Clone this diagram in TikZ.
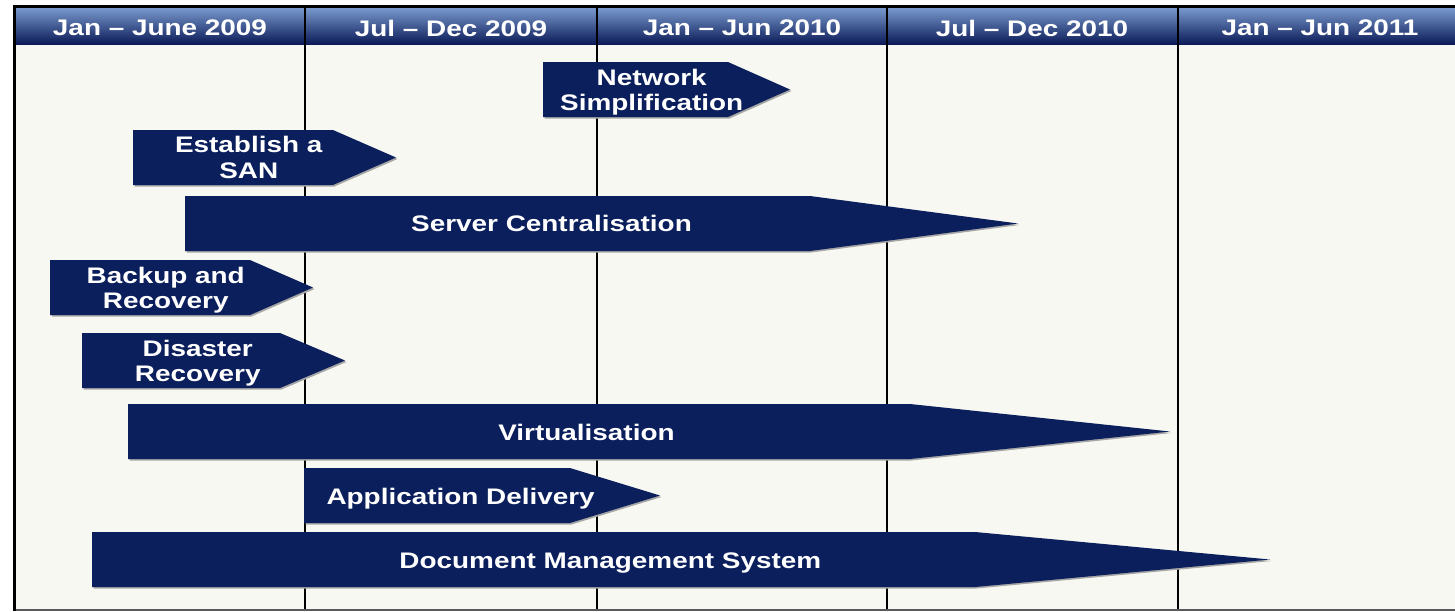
\documentclass[tikz,border=0pt]{standalone}
\usepackage{fontspec}
\setmainfont[FakeStretch=1.24]{Liberation Sans}

\definecolor{navy}{RGB}{11,31,92}
\definecolor{paper}{RGB}{248,248,243}
\definecolor{hdtop}{RGB}{120,152,205}
\definecolor{hdmid}{RGB}{80,110,172}
\definecolor{hdbot}{RGB}{12,28,88}

\begin{document}
\begin{tikzpicture}[x=1pt,y=-1pt]
    \tikzstyle{phase}=[fill=navy]
    \tikzstyle{phaseshadow}=[fill=black!35]
    \tikzstyle{phasetext}=[text=white,font=\fontsize{22.5}{25.5}\selectfont\bfseries,align=center,inner sep=0pt]
    \tikzstyle{hdtext}=[phasetext]
    \tikzstyle{divider}=[line width=2pt]
    \useasboundingbox (0,0) rectangle (1455,611);
    % sheet and header band
    \fill[paper] (16,8) rectangle (1455,609);
    \shade[top color=hdtop,middle color=hdmid,bottom color=hdbot] (16,8) rectangle (1455,44);
    \foreach \x in {305,597,887,1178}
      \draw[divider] (\x,8) -- (\x,609);
    \draw[line width=3pt] (13,6.5) -- (1455,6.5);
    \draw[line width=3pt] (14.5,5) -- (14.5,611);
    \draw[black!65,line width=2pt] (16,610) -- (1455,610);
    \foreach \x/\txt [count=\i] in {160/Jan -- June 2009,451/Jul -- Dec 2009,742/Jan -- Jun 2010,1032/Jul -- Dec 2010,1320/Jan -- Jun 2011}
      \node[hdtext] (hd\i) at (\x,28) {\txt};
    % the work streams: name/left/shoulder/tip/top/text shift/text
    \foreach \nm/\l/\s/\t/\y/\dy/\txt in {
        net/543/728/790/62/2.5/{Network\\Simplification},
        san/133/333/396/130/0/{Establish a\\SAN},
        srv/185/810/1018/196/0/{Server Centralisation},
        bak/50/250/313/260/2.5/{Backup and\\Recovery},
        dis/82/280/345/333/2.5/{Disaster\\Recovery},
        vir/128/910/1170/404/0.5/{Virtualisation},
        app/304/570/660/468/3/{Application Delivery},
        dms/92/975/1270/532/3.5/{Document Management System}}
    {
      \fill[phaseshadow,shift={(1.5,1.5)}] (\l,\y) -- (\s,\y) -- (\t,\y+27.5) -- (\s,\y+55) -- (\l,\y+55) -- cycle;
      \fill[phase] (\l,\y) -- (\s,\y) -- (\t,\y+27.5) -- (\s,\y+55) -- (\l,\y+55) -- cycle;
      \node[phasetext] (\nm) at ({\l+0.44*(\t-\l)},\y+27.5+\dy) {\txt};
    }
\end{tikzpicture}
\end{document}
